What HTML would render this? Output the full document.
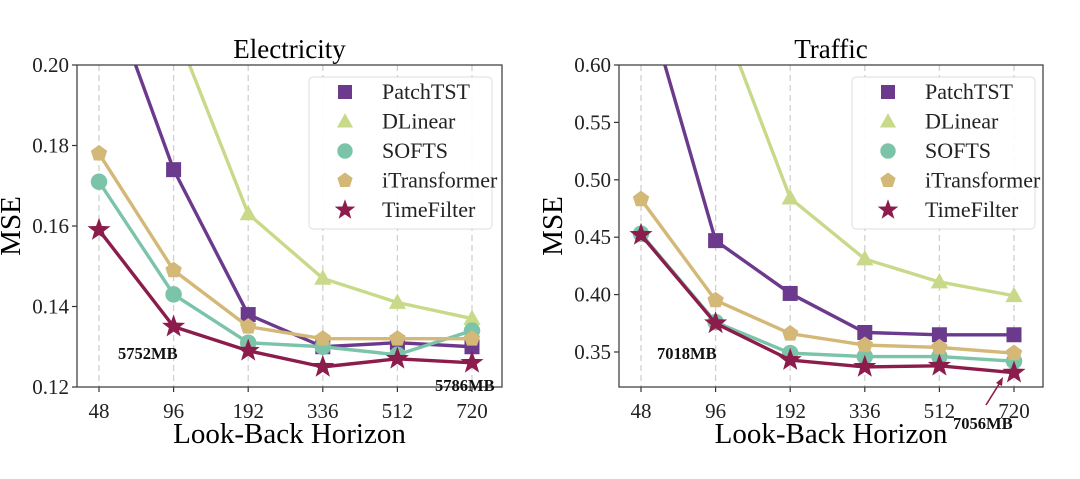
<!DOCTYPE html>
<html><head><meta charset="utf-8"><style>
html,body{margin:0;padding:0;background:#fff;}
svg{display:block;font-family:"Liberation Serif",serif;}
</style></head><body>
<svg id="fig" width="1080" height="479" viewBox="0 0 1080 479" xmlns="http://www.w3.org/2000/svg"></svg>
<script>
const categories = ["48","96","192","336","512","720"];
const seriesNames = ["PatchTST","DLinear","SOFTS","iTransformer","TimeFilter"];
const seriesColors = ["#6b3a8c","#c8da8a","#7cc4a9","#d3b878","#8c1c4b"];
const elecPatch = [0.225,0.174,0.138,0.130,0.131,0.130];
const elecDLinear = [0.26,0.210,0.163,0.147,0.141,0.137];
const elecSofts = [0.171,0.143,0.131,0.130,0.128,0.134];
const elecITrans = [0.178,0.149,0.135,0.132,0.132,0.132];
const elecTimeFilter = [0.159,0.135,0.129,0.125,0.127,0.126];
const trafPatch = [0.672,0.447,0.401,0.367,0.365,0.365];
const trafDLinear = [0.80,0.655,0.484,0.431,0.411,0.399];
const trafSofts = [0.453,0.376,0.349,0.346,0.346,0.342];
const trafITrans = [0.483,0.395,0.366,0.356,0.354,0.349];
const trafTimeFilter = [0.452,0.375,0.343,0.337,0.338,0.332];
const elecTicks = [0.12,0.14,0.16,0.18,0.20];
const trafTicks = [0.35,0.40,0.45,0.50,0.55,0.60];

const NS="http://www.w3.org/2000/svg";
const svg=document.getElementById('fig');
function mk(tag,attrs,parent){const e=document.createElementNS(NS,tag);for(const k in attrs)e.setAttribute(k,attrs[k]);(parent||svg).appendChild(e);return e;}

function marker(g,kind,cx,cy,color,s){
  let e;
  if(kind===0){e=mk('rect',{x:cx-s,y:cy-s,width:2*s,height:2*s,fill:color},g);}
  else if(kind===1){e=mk('polygon',{points:`${cx},${cy-s*1.2} ${cx+s*1.15},${cy+s*0.85} ${cx-s*1.15},${cy+s*0.85}`,fill:color},g);}
  else if(kind===2){e=mk('circle',{cx:cx,cy:cy,r:s*1.1,fill:color},g);}
  else if(kind===3){let p=[];for(let i=0;i<5;i++){const a=-Math.PI/2+i*2*Math.PI/5;p.push((cx+s*1.15*Math.cos(a))+','+(cy+s*1.15*Math.sin(a)));}e=mk('polygon',{points:p.join(' '),fill:color},g);}
  else {let p=[];for(let i=0;i<10;i++){const r=i%2?s*0.55:s*1.35;const a=-Math.PI/2+i*Math.PI/5;p.push((cx+r*Math.cos(a))+','+(cy+r*Math.sin(a)));}e=mk('polygon',{points:p.join(' '),fill:color},g);}
  return e;
}

function panel(cfg){
  const {id,x0,x1,top,bot,ymin,ymax,ticks,tickFmt,title,data,xFirst,xLast,legX,legY}=cfg;
  const g=mk('g',{});
  
  
  const xs=i=>xFirst+(xLast-xFirst)*i/(categories.length-1);
  const ys=v=>bot-(v-ymin)/(ymax-ymin)*(bot-top);
  const clipId=id+'-clip';
  const cp=mk('clipPath',{id:clipId},g);mk('rect',{x:x0,y:top,width:x1-x0,height:bot-top},cp);
  categories.forEach((c,i)=>{const l=mk('line',{x1:xs(i),x2:xs(i),y1:top,y2:bot,stroke:'#d0d0d0','stroke-width':1.3,'stroke-dasharray':'6,4'},g);
    });
  const t=mk('text',{x:(x0+x1)/2,y:top-7,'text-anchor':'middle','font-size':27},g);t.textContent=title;
  
  ticks.forEach(v=>{const y=ys(v);mk('line',{x1:x0-5,x2:x0,y1:y,y2:y,stroke:'#333','stroke-width':1.2},g);
    const tx=mk('text',{x:x0-8,y:y+7,'text-anchor':'end','font-size':21,fill:'#222'},g);tx.textContent=tickFmt(v);
    });
  categories.forEach((c,i)=>{mk('line',{x1:xs(i),x2:xs(i),y1:bot,y2:bot+5,stroke:'#333','stroke-width':1.2},g);
    const tx=mk('text',{x:xs(i),y:bot+31,'text-anchor':'middle','font-size':21,fill:'#222'},g);tx.textContent=c;
    });
  const yl=mk('text',{x:0,y:0,'text-anchor':'middle','font-size':29,transform:`translate(${x0-57},${(top+bot)/2}) rotate(-90)`},g);yl.textContent='MSE';
  
  const xl=mk('text',{x:(x0+x1)/2,y:bot+56,'text-anchor':'middle','font-size':29},g);xl.textContent='Look-Back Horizon';
  
  const sg=mk('g',{'clip-path':`url(#${clipId})`},g);
  data.forEach((arr,k)=>{
    const pts=arr.map((v,i)=>xs(i)+','+ys(v)).join(' ');
    const pl=mk('polyline',{points:pts,fill:'none',stroke:seriesColors[k],'stroke-width':3.4,'stroke-linejoin':'round'},sg);
    
    arr.forEach((v,i)=>{const m=marker(sg,k,xs(i),ys(v),seriesColors[k],k===4?9:7.5);
      });
  });
  const fr=mk('rect',{x:x0,y:top,width:x1-x0,height:bot-top,fill:'none',stroke:'#444','stroke-width':1.3},g);
  
  const lg=mk('g',{},g);
  mk('rect',{x:legX,y:legY,width:183,height:152,rx:4,fill:'#fff','fill-opacity':0.9,stroke:'#ddd','stroke-width':1},lg);
  seriesNames.forEach((n,k)=>{const yy=legY+15+k*29.5;
    const e=mk('g',{},lg);
    marker(e,k,legX+36,yy,seriesColors[k],k===4?8:7);
    const tx=mk('text',{x:legX+73,y:yy+7,'font-size':22,fill:'#222'},e);tx.textContent=n;});
  return g;
}

panel({id:'electricity',x0:77,x1:502,top:65,bot:387,ymin:0.12,ymax:0.20,ticks:elecTicks,tickFmt:v=>v.toFixed(2),title:'Electricity',
  data:[elecPatch,elecDLinear,elecSofts,elecITrans,elecTimeFilter],xFirst:99,xLast:472,legX:309,legY:77});
panel({id:'traffic',x0:619,x1:1043,top:65,bot:387,ymin:0.3195,ymax:0.60,ticks:trafTicks,tickFmt:v=>v.toFixed(2),title:'Traffic',
  data:[trafPatch,trafDLinear,trafSofts,trafITrans,trafTimeFilter],xFirst:641,xLast:1014,legX:852,legY:77});

function ann(x,y,txt,name){const t=mk('text',{x:x,y:y,'font-size':16.5,'font-weight':'bold',fill:'#111'});t.textContent=txt;
  }
ann(118,359,'5752MB','memory-annotation-48');
ann(435,391,'5786MB','memory-annotation-720');
ann(657,359,'7018MB','memory-annotation-traffic-48');
ann(953,429,'7056MB','memory-annotation-traffic-720');
const ar=mk('line',{x1:986,y1:405,x2:1001,y2:381,stroke:'#8c1c4b','stroke-width':1.6});

mk('polygon',{points:'1003,377 996,383 1002,386',fill:'#8c1c4b'});
</script>
</body></html>
